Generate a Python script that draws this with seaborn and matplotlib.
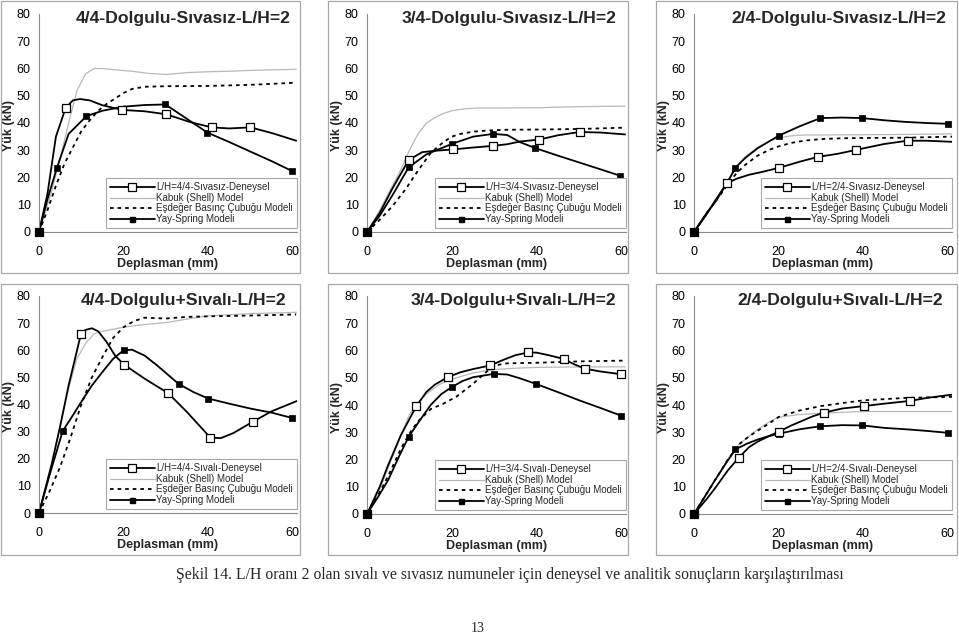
import matplotlib
matplotlib.use("Agg")
from matplotlib import pyplot as plt
from matplotlib.lines import Line2D
from matplotlib.patches import Rectangle
from matplotlib.ticker import MultipleLocator
import pandas as pd
import seaborn as sns

# ---- data (Deplasman mm, Yuk kN) ----
titles = ["4/4-Dolgulu-Sıvasız-L/H=2", "3/4-Dolgulu-Sıvasız-L/H=2", "2/4-Dolgulu-Sıvasız-L/H=2",
          "4/4-Dolgulu+Sıvalı-L/H=2", "3/4-Dolgulu+Sıvalı-L/H=2", "2/4-Dolgulu+Sıvalı-L/H=2"]
exp_labels = ["L/H=4/4-Sıvasız-Deneysel", "L/H=3/4-Sıvasız-Deneysel", "L/H=2/4-Sıvasız-Deneysel",
              "L/H=4/4-Sıvalı-Deneysel", "L/H=3/4-Sıvalı-Deneysel", "L/H=2/4-Sıvalı-Deneysel"]
model_labels = ["Kabuk (Shell) Model", "Eşdeğer Basınç Çubuğu Modeli", "Yay-Spring Modeli"]

# deneysel (experiment)
exp_x = [
    [0, 2, 4, 6.3, 8, 9.7, 12, 15, 19.7, 25, 30.1, 35.6, 40.8, 45, 50, 55.3, 60.8],
    [0, 3, 6, 9.8, 13, 16, 20.2, 25, 29.6, 33, 36, 40.5, 45, 50.1, 55, 60.8],
    [0, 3, 5, 7.8, 10, 13, 16, 20.2, 25, 29.4, 34, 38.2, 45, 50.5, 55, 61],
    [0, 3, 5, 7, 9.9, 11, 12.5, 14, 16, 18, 20.1, 25, 30.6, 35, 40.5, 43, 46, 50.5, 55, 61],
    [0, 3, 5, 8, 11.6, 14, 16, 19, 22, 25, 29, 32, 35, 38, 40, 43, 46.3, 49, 51.4, 55, 59.8, 60.8],
    [0, 3, 5, 8, 10.6, 13, 15, 18, 20.1, 23, 25, 28, 30.7, 35, 40.2, 45, 51.1, 55, 61],
]
exp_y = [
    [0, 14, 35, 45.5, 48.3, 48.8, 48.3, 46.5, 44.8, 44.3, 43.2, 40.4, 38.4, 38, 38.4, 36.2, 33.5],
    [0, 7, 16, 26.4, 29.3, 29.8, 30.3, 31, 31.6, 32.2, 33.2, 33.9, 35.5, 36.7, 36.5, 35.8],
    [0, 6.5, 11.5, 17.9, 19.5, 21, 22, 23.6, 25.8, 27.6, 28.7, 30.1, 32.3, 33.5, 33.5, 33.1],
    [0, 18, 32, 47, 65.9, 67.5, 68.1, 67, 63, 58, 54.7, 49.5, 44.1, 37.2, 27.8, 27.6, 29.5, 33.6, 37.5, 41.3],
    [0, 10, 18, 29, 39.5, 44.8, 47.5, 50.2, 52, 53.2, 54.5, 56.5, 58.3, 59.3, 59.2, 58.2, 56.9, 54.8, 53.3, 52.3, 51.3, 51.2],
    [0, 5.5, 9.5, 16, 20.7, 24.5, 26.5, 28.8, 30.2, 32.5, 33.8, 35.8, 37.2, 38.7, 39.6, 40.5, 41.5, 42.6, 43.8],
]
exp_marks = [
    [0, 3, 8, 10, 12, 14],
    [0, 3, 6, 8, 11, 13],
    [0, 3, 7, 9, 11, 13],
    [0, 4, 10, 12, 14, 17],
    [0, 4, 7, 10, 13, 16, 18, 20],
    [0, 4, 8, 12, 14, 16],
]

# kabuk (shell) model
shell_x = [
    [0, 3, 5, 7, 9, 11, 13, 15, 18, 22, 26, 30, 35, 40, 45, 50, 55, 60.8],
    [0, 3, 6, 8, 10, 12, 14, 16, 18, 20, 23, 26, 30, 40, 50, 60.8],
    [0, 3, 5, 8, 10, 12, 15, 18, 20, 23, 26, 30, 40, 50, 61],
    [0, 3, 5, 7, 9, 11, 13, 15, 20, 25, 30, 35, 40, 50, 61],
    [0, 3, 5, 8, 10, 12, 14, 17, 20, 25, 30, 35, 40, 50, 60.8],
    [0, 3, 5, 8, 10.6, 13, 15, 18, 20, 25, 30, 35, 40, 50, 61],
]
shell_y = [
    [0, 15, 27, 40, 52, 58, 60, 60, 59.5, 59, 58.2, 57.8, 58.5, 58.8, 59, 59.3, 59.5, 59.7],
    [0, 8, 17, 23, 30, 36, 40, 42, 43.5, 44.5, 45.2, 45.5, 45.5, 45.6, 46, 46.2],
    [0, 7, 11.5, 19, 24, 27.5, 31, 33.5, 34.5, 35.3, 35.6, 35.6, 35.7, 35.8, 36],
    [0, 18, 32, 46, 57, 62.5, 66, 67, 68.5, 69.5, 70.2, 71.5, 72.7, 73.5, 74],
    [0, 9, 17, 29, 36.5, 41, 44, 47.5, 49.5, 51.8, 53, 53.5, 53.8, 54, 54],
    [0, 7.5, 12.5, 20, 25.5, 28.5, 31, 34, 35.5, 36.5, 37, 37.3, 37.6, 37.6, 37.6],
]

# esdeger basinc cubugu (equivalent strut) model
strut_x = [
    [0, 2, 4, 6, 8, 10, 12, 14, 16, 18, 20, 22, 25, 30, 40, 50, 60.8],
    [0, 3, 6, 9, 12, 15, 18, 20, 22, 25, 28, 32, 40, 50, 60.8],
    [0, 3, 5, 8, 10, 12, 15, 18, 20, 23, 26, 30, 35, 40, 50, 61],
    [0, 2.5, 5, 7.5, 10, 12.5, 15, 17.5, 20, 22.5, 25, 30, 35, 40, 50, 60.8],
    [0, 3, 5, 8, 10, 12, 15, 18, 21, 25, 28, 30, 33, 40, 50, 60.8],
    [0, 3, 5, 8, 10.6, 13, 15, 18, 20, 25, 30, 35, 40, 50, 61],
]
strut_y = [
    [0, 8, 17, 25, 31, 37, 41, 44.5, 47, 49, 51, 52.5, 53.3, 53.5, 53.6, 54, 54.8],
    [0, 4.5, 9.5, 15.5, 22.5, 29, 33, 35, 36, 36.8, 37.2, 37.5, 37.6, 37.8, 38.3],
    [0, 7, 11, 17.5, 21.5, 24.5, 28, 30.3, 31.4, 32.7, 33.5, 34.1, 34.4, 34.5, 34.6, 35],
    [0, 8, 17, 28, 40, 50, 57.5, 64.5, 68.5, 70.8, 72, 71.7, 72.3, 72.5, 72.8, 73.2],
    [0, 8, 14, 24, 29.5, 34, 38.5, 40.5, 43, 47.8, 52, 54.5, 55.3, 55.5, 56, 56.3],
    [0, 7.5, 12.5, 20, 25.5, 28.5, 30.5, 33.5, 35.6, 38, 39.6, 40.7, 41.7, 42.6, 43],
]

# yay-spring model
spring_x = [
    [0, 2, 4.2, 7, 11.2, 15, 20, 25, 29.9, 35, 39.8, 45, 50, 55, 59.8],
    [0, 3, 6, 9.8, 14, 20.1, 25, 29.7, 33, 36, 39.6, 45, 50, 55, 59.7],
    [0, 3, 5, 7.8, 9.8, 12, 15, 20.1, 25, 29.9, 35, 39.8, 45, 50, 55, 60],
    [0, 2.5, 5.6, 8, 10, 12.5, 15, 17.5, 20, 22, 25, 28, 33, 36.5, 40, 45, 50, 55, 59.9],
    [0, 2.5, 5, 7.5, 9.8, 12.5, 15, 17.5, 20, 22.5, 25, 29.8, 33, 36, 39.7, 45, 50, 55, 59.8],
    [0, 3, 5, 7.5, 9.8, 12.5, 15, 17.5, 20.1, 25, 29.9, 35, 39.8, 45, 50, 55, 60],
]
spring_y = [
    [0, 12, 23.4, 36, 42.5, 44.5, 46, 46.6, 46.8, 41.5, 36.5, 33, 29.5, 26, 22.4],
    [0, 6, 13.5, 23.7, 28.5, 32.4, 35, 36, 35.6, 33, 30.8, 28, 25.5, 23, 20.6],
    [0, 7, 11, 17.9, 23.6, 27, 30.7, 35.4, 38.8, 41.8, 42, 41.8, 41, 40.4, 40, 39.7],
    [0, 14, 30.2, 36, 41, 47, 52, 56.8, 60, 60.2, 58, 54.3, 47.6, 44.6, 42.2, 40.3, 38.5, 37, 35],
    [0, 6, 12.5, 21, 28.3, 34.5, 40, 44, 46.6, 48.8, 50.2, 51.4, 51.2, 49.8, 47.8, 44.7, 41.7, 38.9, 36.1],
    [0, 7.5, 12.5, 18.5, 23.7, 25.8, 27.3, 28.5, 29.5, 31.1, 32.2, 32.6, 32.5, 31.6, 31.1, 30.5, 29.8],
]
spring_marks = [
    [0, 2, 4, 8, 10, 14],
    [0, 3, 5, 7, 10, 14],
    [0, 4, 7, 9, 11, 15],
    [0, 2, 8, 12, 14, 18],
    [0, 4, 8, 11, 14, 18],
    [0, 4, 8, 10, 12, 16],
]

caption = ("Şekil 14. L/H oranı 2 olan sıvalı ve sıvasız numuneler için deneysel "
           "ve analitik sonuçların karşılaştırılması")

sns.set_style("white")
plt.rcParams["font.family"] = ["Liberation Sans", "DejaVu Sans"]

W, H = 959, 634
fig = plt.figure(figsize=(W / 100, H / 100), dpi=100)

# axes boxes in pixels (left, right, top, bottom)
ax_px = [(39, 297, 14, 232), (367, 626, 14, 232), (694, 952, 14, 232),
         (39, 297, 296, 513), (367, 626, 296, 514), (694, 952, 296, 514)]
box_px = [(1, 300, 1, 273), (328, 628, 1, 273), (656, 957, 1, 273),
          (1, 300, 284, 555), (328, 628, 284, 555), (656, 957, 284, 555)]
title_xfrac = [0.56, 0.55, 0.56, 0.56, 0.565, 0.565]

axgray = "#8c8c8c"
shell_c = "#b8b8b8"

for (l, r, t, b) in box_px:
    fig.patches.append(Rectangle((l / W, 1 - b / H), (r - l) / W, (b - t) / H,
                                 transform=fig.transFigure, fill=False,
                                 edgecolor="#a8a8a8", lw=0.9))

for i in range(6):
    l, r, t, b = ax_px[i]
    ax = fig.add_axes([l / W, 1 - b / H, (r - l) / W, (b - t) / H])
    ax.set_facecolor("none")

    sns.lineplot(x=shell_x[i], y=shell_y[i], ax=ax, color=shell_c, lw=0.9, sort=False)
    sns.lineplot(x=strut_x[i], y=strut_y[i], ax=ax, color="black", lw=1.3,
                 linestyle=(0, (2, 2.2)), sort=False)
    sns.lineplot(x=spring_x[i], y=spring_y[i], ax=ax, color="black", lw=1.3, sort=False)
    sns.lineplot(x=exp_x[i], y=exp_y[i], ax=ax, color="black", lw=1.3, sort=False)

    sx = [spring_x[i][k] for k in spring_marks[i]]
    sy = [spring_y[i][k] for k in spring_marks[i]]
    sns.scatterplot(x=sx, y=sy, ax=ax, marker="s", s=14, color="black",
                    edgecolor="black", linewidth=0.5, zorder=5, clip_on=False)
    ex = [exp_x[i][k] for k in exp_marks[i]]
    ey = [exp_y[i][k] for k in exp_marks[i]]
    sns.scatterplot(x=ex, y=ey, ax=ax, marker="s", s=30, color="white",
                    edgecolor="black", linewidth=0.9, zorder=6, clip_on=False)
    # origin point drawn solid, as in the reference
    sns.scatterplot(x=ex[:1], y=ey[:1], ax=ax, marker="s", s=34, color="black",
                    edgecolor="black", zorder=7, clip_on=False)

    ax.set_xlim(0, 61)
    ax.set_ylim(0, 80)
    ax.set_xticks([0, 20, 40, 60])
    ax.set_yticks(range(0, 81, 10))
    ax.xaxis.set_minor_locator(MultipleLocator(4))
    ax.yaxis.set_minor_locator(MultipleLocator(2))
    for s in ["top", "right"]:
        ax.spines[s].set_visible(False)
    for s in ["left", "bottom"]:
        ax.spines[s].set_color(axgray)
        ax.spines[s].set_linewidth(0.8)
    ax.tick_params(which="major", length=3, width=0.7, color=axgray, labelsize=9,
                   labelcolor="black")
    ax.tick_params(which="minor", length=2, width=0.6, color=axgray)
    ax.tick_params(axis="y", which="both", direction="in", pad=6)
    ax.tick_params(axis="x", which="both", direction="out", pad=7)
    ax.set_xlabel("Deplasman (mm)", fontsize=9, fontweight="bold", labelpad=0)
    ax.set_ylabel("Yük (kN)", fontsize=9, fontweight="bold")
    ax.yaxis.set_label_coords(-0.092, 0.49)

    ax.text(title_xfrac[i], 0.98, titles[i], transform=ax.transAxes, ha="center",
            va="center", fontsize=12.6, fontweight="bold")

    handles = [
        Line2D([], [], color="black", lw=1.3, marker="s", ms=5.2, mfc="white", mec="black", mew=0.9),
        Line2D([], [], color=shell_c, lw=0.9),
        Line2D([], [], color="black", lw=1.3, linestyle=(0, (2, 2.2))),
        Line2D([], [], color="black", lw=1.3, marker="s", ms=3.6, mfc="black", mec="black"),
    ]
    leg = ax.legend(handles, [exp_labels[i]] + model_labels, loc="lower right",
                    bbox_to_anchor=(1.0, 0.02), fontsize=7, frameon=True,
                    fancybox=False, edgecolor="#a8a8a8", framealpha=1,
                    handlelength=4.6, handletextpad=0.2, labelspacing=0.05,
                    borderpad=0.4, borderaxespad=0.0, handleheight=0.5)
    leg.get_frame().set_linewidth(0.8)

fig.text(510 / W, 1 - 575 / H, caption, ha="center", va="center", fontsize=11.3,
         family=["Liberation Serif", "DejaVu Serif"])
fig.text(478 / W, 1 - 628 / H, "13", ha="center", va="center", fontsize=10,
         family=["Liberation Serif", "DejaVu Serif"])

fig.savefig("out.png", dpi=100, facecolor="white")
